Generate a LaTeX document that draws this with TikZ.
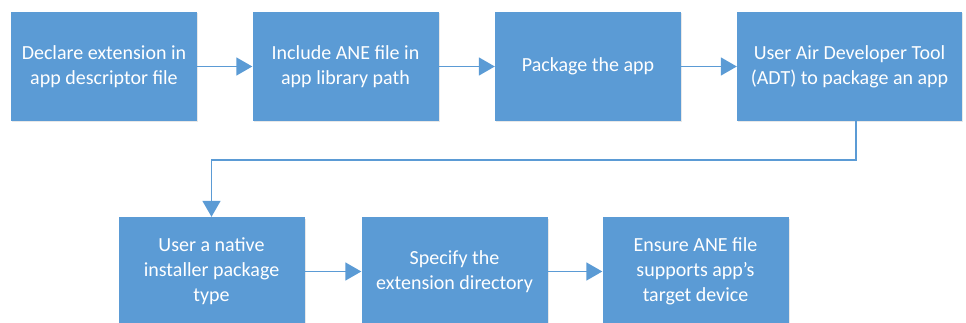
\documentclass[tikz,border=0pt]{standalone}
\usepackage{fontspec}
\setmainfont{Carlito}
\usetikzlibrary{arrows.meta,shadows}

\definecolor{boxblue}{HTML}{5B9BD5}
\definecolor{lineblue}{HTML}{5B9BD5}

\tikzset{
  stepbox/.style={draw=none, fill=boxblue, text=white, align=center,
    minimum width=186pt, minimum height=109pt, inner sep=2pt,
    font=\fontsize{20pt}{25pt}\selectfont,
    drop shadow={opacity=0.18, shadow xshift=1pt, shadow yshift=-1.5pt}},
  flow/.style={draw=lineblue, line width=1.6pt,
    -{Triangle[length=16pt,width=18pt]}}
}

\begin{document}
\begin{tikzpicture}[x=1pt,y=-1pt]
  \useasboundingbox (0,0) rectangle (966,323);
  \clip (0,0) rectangle (966,323);
  % top row
  \node[stepbox] (declare) at (104,66.5) {Declare extension in\\app descriptor file};
  \node[stepbox] (include) at (345.5,66.5) {Include ANE file in\\app library path};
  \node[stepbox] (package) at (588,66.5) {Package the app};
  \node[stepbox, minimum width=225pt] (adt) at (849.5,66.5) {User Air Developer Tool\\(ADT) to package an app};
  % bottom row
  \node[stepbox] (native) at (211.5,271.5) {User a native\\installer package\\type};
  \node[stepbox] (extdir) at (454.5,271.5) {Specify the\\extension directory};
  \node[stepbox] (ensure) at (695.5,271.5) {Ensure ANE file\\supports app’s\\target device};
  \coordinate (turn) at (856,160);
  \draw[flow] (declare) -- (include);
  \draw[flow] (include) -- (package);
  \draw[flow] (package) -- (adt);
  \draw[flow] (adt.south -| turn) -- (turn) -| (native.north);
  \draw[flow] (native) -- (extdir);
  \draw[flow] (extdir) -- (ensure);
\end{tikzpicture}
\end{document}
